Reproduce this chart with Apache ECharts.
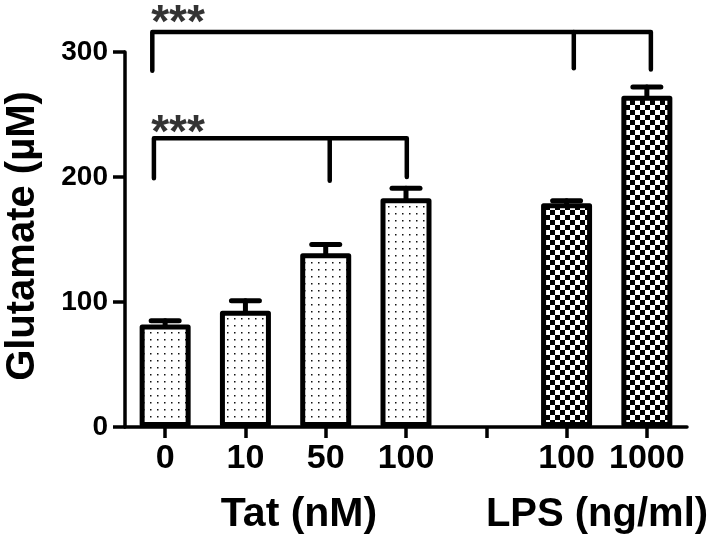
<!DOCTYPE html>
<html>
<head>
<meta charset="utf-8">
<script src="https://cdn.jsdelivr.net/npm/echarts@6/dist/echarts.min.js"></script>
<style>
html,body{margin:0;padding:0;background:#fff;}
#chart{width:716px;height:550px;}
</style>
</head>
<body>
<div id="chart"></div>
<script>
// ---- data ----
const categories = ['0', '10', '50', '100', '', '100', '1000'];
const tatMeans = [82, 93, 139, 183];
const tatErrors = [3, 8, 7, 8];
const lpsMeans = [179, 265];
const lpsErrors = [2, 7];
const yTicks = [0, 100, 200, 300];
// significance brackets (x in category units, y in µM)
const bracketTopX = [-0.16, 6.05];
const bracketTopY = 316;
const bracketTopLegY = [285, 286];
const bracketTopMidX = 5.09;
const bracketTopMidLegY = 287;
const bracketLowX = [-0.14, 3.01];
const bracketLowY = 231;
const bracketLowLegY = [199, 200];
const bracketLowMidX = 2.05;
const bracketLowMidLegY = 197;
const starLabels = ['***', '***'];
const starX = [0.16, 0.16];
const starY = [322, 234];

// ---- patterns ----
function dotPattern() {
  const c = document.createElement('canvas');
  c.width = 7; c.height = 7;
  const g = c.getContext('2d');
  g.fillStyle = '#fff'; g.fillRect(0, 0, 7, 7);
  g.fillStyle = '#111';
  g.fillRect(3, 3, 1.5, 1.5);
  return c;
}
function checkerPattern() {
  const c = document.createElement('canvas');
  c.width = 10; c.height = 10;
  const g = c.getContext('2d');
  g.fillStyle = '#fff'; g.fillRect(0, 0, 10, 10);
  g.fillStyle = '#000';
  g.fillRect(0, 0, 5, 5);
  g.fillRect(5, 5, 5, 5);
  return c;
}
const dots = { image: dotPattern(), repeat: 'repeat' };
const checks = { image: checkerPattern(), repeat: 'repeat' };

const FONT = "'Liberation Sans', Arial, sans-serif";

// build bar data
const barData = [];
const errData = [];
tatMeans.forEach((v, i) => {
  barData.push({ value: v, itemStyle: { color: dots } });
  errData.push([i, v, tatErrors[i]]);
});
barData.push('-');
lpsMeans.forEach((v, i) => {
  barData.push({ value: v, itemStyle: { color: checks } });
  errData.push([5 + i, v, lpsErrors[i]]);
});

const bracketStyle = { color: '#000', width: 4.5, cap: 'round', join: 'round' };
function bracketSeries(data) {
  return {
    type: 'line', xAxisIndex: 1, yAxisIndex: 0, data: data,
    symbol: 'none', clip: false, silent: true,
    lineStyle: bracketStyle, z: 5, animation: false
  };
}

const chart = echarts.init(document.getElementById('chart'), null, { renderer: 'canvas' });
chart.setOption({
  animation: false,
  backgroundColor: '#fff',
  textStyle: { fontFamily: FONT },
  grid: { left: 125, right: 29, top: 52, bottom: 123, containLabel: false },
  xAxis: [{
    type: 'category',
    data: categories,
    boundaryGap: true,
    axisLine: { show: true, onZero: false, lineStyle: { color: '#000', width: 3.5 } },
    axisTick: { show: true, inside: false, alignWithLabel: true, interval: 0, length: 11, lineStyle: { color: '#000', width: 3.5 } },
    axisLabel: { interval: 0, color: '#000', fontSize: 34, fontWeight: 'bold', fontFamily: FONT, margin: 15 },
    splitLine: { show: false }
  }, {
    type: 'value', min: -0.5, max: 6.5, show: false,
    axisLine: { onZero: false }
  }],
  yAxis: {
    type: 'value', min: yTicks[0], max: yTicks[yTicks.length - 1], interval: 100,
    axisLine: { show: true, onZero: false, lineStyle: { color: '#000', width: 3.5 } },
    axisTick: { show: true, length: 12, lineStyle: { color: '#000', width: 3.5 } },
    axisLabel: { color: '#000', fontSize: 28, fontWeight: 'bold', fontFamily: FONT, margin: 17 },
    splitLine: { show: false }
  },
  series: [
    {
      type: 'bar', data: barData, barWidth: 51,
      itemStyle: { borderColor: '#000', borderWidth: 5, borderJoin: 'round' },
      z: 2
    },
    {
      type: 'custom', data: errData, z: 3,
      renderItem: function (params, api) {
        const base = api.coord([api.value(0), api.value(1)]);
        const top = api.coord([api.value(0), api.value(1) + api.value(2)]);
        const style = { stroke: '#000', lineWidth: 5, lineCap: 'round' };
        return {
          type: 'group',
          children: [
            { type: 'line', shape: { x1: base[0], y1: base[1], x2: top[0], y2: top[1] }, style: style },
            { type: 'line', shape: { x1: top[0] - 14, y1: top[1], x2: top[0] + 14, y2: top[1] }, style: style }
          ]
        };
      }
    },
    bracketSeries([[bracketTopX[0], bracketTopLegY[0]], [bracketTopX[0], bracketTopY], [bracketTopX[1], bracketTopY], [bracketTopX[1], bracketTopLegY[1]]]),
    bracketSeries([[bracketTopMidX, bracketTopY], [bracketTopMidX, bracketTopMidLegY]]),
    bracketSeries([[bracketLowX[0], bracketLowLegY[0]], [bracketLowX[0], bracketLowY], [bracketLowX[1], bracketLowY], [bracketLowX[1], bracketLowLegY[1]]]),
    bracketSeries([[bracketLowMidX, bracketLowY], [bracketLowMidX, bracketLowMidLegY]]),
    {
      type: 'scatter', xAxisIndex: 1, yAxisIndex: 0, symbolSize: 0, clip: false, silent: true,
      data: starX.map((x, i) => ({ value: [x, starY[i]], name: starLabels[i] })),
      label: {
        show: true, position: 'inside', formatter: p => p.name,
        color: '#000', fontSize: 46, fontWeight: 'bold', fontFamily: FONT
      }
    }
  ],
  graphic: [
    { type: 'text', x: 23, y: 236, rotation: Math.PI / 2,
      style: { text: 'Glutamate (\u00B5M)', fontSize: 40, fontWeight: 'bold', fontFamily: FONT, fill: '#000', align: 'center', verticalAlign: 'middle' } },
    { type: 'text', x: 299, y: 515,
      style: { text: 'Tat (nM)', fontSize: 41, fontWeight: 'bold', fontFamily: FONT, fill: '#000', align: 'center', verticalAlign: 'middle' } },
    { type: 'text', x: 597, y: 515,
      style: { text: 'LPS (ng/ml)', fontSize: 40, fontWeight: 'bold', fontFamily: FONT, fill: '#000', align: 'center', verticalAlign: 'middle' } }
  ]
});
</script>
</body>
</html>
